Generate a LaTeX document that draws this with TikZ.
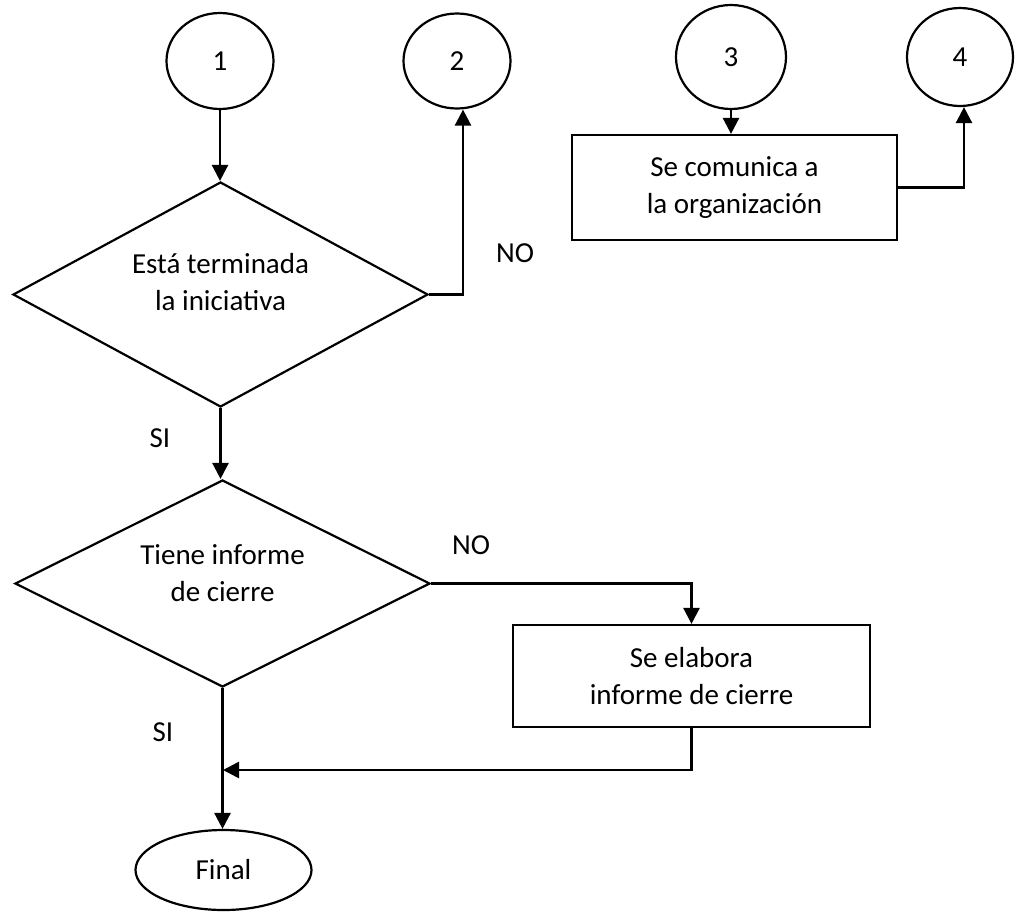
\documentclass[tikz,border=0pt]{standalone}
\usepackage{fontspec}
\setmainfont{Carlito}
\usetikzlibrary{shapes.geometric,arrows.meta}
\begin{document}
\begin{tikzpicture}[x=1pt,y=-1pt,
  every node/.style={font=\fontsize{29}{37}\selectfont, align=center, inner sep=0pt},
  line/.style={line width=2.6pt, line join=miter},
  arr/.style={line, -{Triangle[width=16pt,length=16pt]}},
  conn/.style={ellipse, draw, line width=2.2pt},
  decide/.style={diamond, draw, line width=2.2pt, aspect=1.85},
  procbox/.style={rectangle, draw, line width=2.2pt},
  lbl/.style={}]
\useasboundingbox (0,0) rectangle (1025,911);
% connectors (circles)
\node[conn, minimum width=107pt, minimum height=96pt] (c1) at (220,61) {1};
\node[conn, minimum width=107pt, minimum height=95pt] (c2) at (457,61) {2};
\node[conn, minimum width=110pt, minimum height=104pt] (c3) at (731,57) {3};
\node[conn, minimum width=106pt, minimum height=98pt] (c4) at (960,57) {4};
% decisions
\node[decide, minimum width=415pt, minimum height=225pt] (d1) at (220.5,294.5) {};
\node (d1t) at ([yshift=12pt]d1.center) {Está terminada\\la iniciativa};
\node[decide, minimum width=415pt, minimum height=207pt] (d2) at (222.5,583.5) {};
\node (d2t) at ([yshift=10pt]d2.center) {Tiene informe\\de cierre};
% process boxes
\node[procbox, minimum width=325pt, minimum height=105pt] (b1) at (734.5,187.5) {Se comunica a\\la organización};
\node[procbox, minimum width=357pt, minimum height=102pt] (b2) at (691.5,676) {Se elabora\\informe de cierre};
% terminal
\node[conn, minimum width=176pt, minimum height=80pt] (fin) at (223.5,870) {Final};
% labels
\node[lbl] (no1) at (515,253) {NO};
\node[lbl] (si1) at (160,438) {SI};
\node[lbl] (no2) at (471,545) {NO};
\node[lbl] (si2) at (163,732) {SI};
\coordinate (j) at (223,770);
% arrows
\draw[arr] (c1.south) -- (c1.south |- d1.north);
\draw[arr] (d1.east) -| ([xshift=6pt]c2.south);
\draw[arr] (d1.south) -- (d1.south |- d2.north);
\draw[arr] (d2.east) -| (b2.north);
\draw[arr] (d2.south) -- (d2.south |- fin.north);
\draw[arr] (b2.south) |- (j);
\draw[arr] (c3.south) -- (c3.south |- b1.north);
\draw[arr] (b1.east) -| ([xshift=4pt]c4.south);
\end{tikzpicture}
\end{document}
